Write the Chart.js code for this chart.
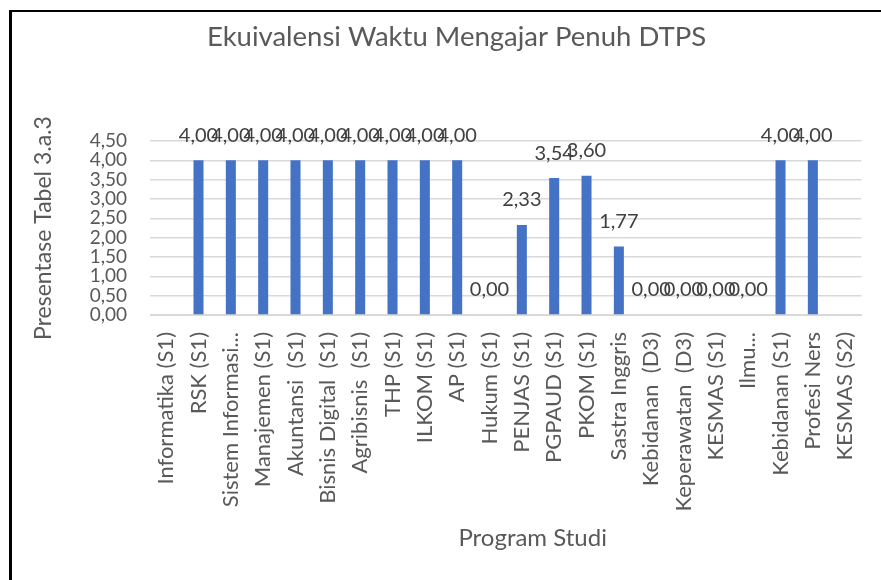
<!DOCTYPE html>
<html lang="id">
<head>
    <meta charset="UTF-8">
    <title>Ekuivalensi Waktu Mengajar Penuh DTPS</title>
    <style>
        html, body { margin: 0; padding: 0; background: #fff; }
        .wrap { position: relative; width: 881px; height: 580px; overflow: hidden; }
        .frame {
            position: absolute; left: 9px; top: 10px; right: -10px; bottom: -10px;
            border-top: 2px solid #000; border-left: 3px solid #000;
            pointer-events: none;
        }
    </style>
</head>
<body>
    <div class="wrap">
        <canvas id="chart" width="881" height="580"></canvas>
        <div class="frame"></div>
    </div>
    <script src="https://cdn.jsdelivr.net/npm/chart.js"></script>
    <script>
        const programs = [
            "Informatika (S1)", "RSK (S1)", "Sistem Informasi...", "Manajemen (S1)",
            "Akuntansi  (S1)", "Bisnis Digital  (S1)", "Agribisnis  (S1)", "THP (S1)",
            "ILKOM (S1)", "AP (S1)", "Hukum (S1)", "PENJAS (S1)", "PGPAUD (S1)",
            "PKOM (S1)", "Sastra Inggris", "Kebidanan  (D3)", "Keperawatan  (D3)",
            "KESMAS (S1)", "Ilmu...", "Kebidanan (S1)", "Profesi Ners", "KESMAS (S2)"
        ];
        const ekuivalensi = [
            null, 4.00, 4.00, 4.00, 4.00, 4.00, 4.00, 4.00, 4.00, 4.00,
            0.00, 2.33, 3.54, 3.60, 1.77, 0.00, 0.00, 0.00, 0.00, 4.00, 4.00, null
        ];
        const yTicks = [0, 0.5, 1, 1.5, 2, 2.5, 3, 3.5, 4, 4.5];

        const textGrey = "#595959";
        const fmt = v => v.toFixed(2).replace(".", ",");

        // value labels above each bar (no datalabels plugin available offline)
        const valueLabels = {
            id: "valueLabels",
            afterDatasetsDraw(chart) {
                const ctx = chart.ctx;
                const meta = chart.getDatasetMeta(0);
                ctx.save();
                ctx.font = "20px Lato";
                ctx.fillStyle = "#404040";
                ctx.textAlign = "center";
                ctx.textBaseline = "middle";
                meta.data.forEach((bar, i) => {
                    const v = ekuivalensi[i];
                    if (v === null) return;
                    ctx.fillText(fmt(v), bar.x, bar.y - 25);
                });
                ctx.restore();
            }
        };

        // x axis title, Excel puts it a bit right of the plot centre
        const xTitle = {
            id: "xTitle",
            afterDraw(chart) {
                const { ctx, chartArea } = chart;
                ctx.save();
                ctx.font = "24px Lato";
                ctx.fillStyle = textGrey;
                ctx.textAlign = "center";
                ctx.textBaseline = "middle";
                ctx.fillText("Program Studi", (chartArea.left + chartArea.right) / 2 + 27, 538);
                ctx.restore();
            }
        };

        Chart.defaults.font.family = "Lato";
        Chart.defaults.color = textGrey;

        new Chart(document.getElementById("chart"), {
            type: "bar",
            data: {
                labels: programs,
                datasets: [{
                    data: ekuivalensi,
                    backgroundColor: "#4472C4",
                    borderWidth: 0,
                    categoryPercentage: 1,
                    barPercentage: 0.31
                }]
            },
            options: {
                responsive: false,
                animation: false,
                layout: { padding: { left: 50, right: 18, top: 0, bottom: 0 } },
                plugins: {
                    legend: { display: false },
                    tooltip: { enabled: false },
                    title: {
                        display: true,
                        text: "Ekuivalensi Waktu Mengajar Penuh DTPS",
                        color: textGrey,
                        font: { size: 27.5, weight: "normal" },
                        padding: { top: 21, bottom: 87 }
                    }
                },
                scales: {
                    x: {
                        grid: { display: false },
                        border: { display: true, color: "#D9D9D9" },
                        ticks: {
                            autoSkip: false,
                            minRotation: 90,
                            maxRotation: 90,
                            padding: 9,
                            font: { size: 22 }
                        },
                        afterFit(scale) { scale.height = 265; }
                    },
                    y: {
                        min: 0,
                        max: 4.5,
                        afterBuildTicks(scale) {
                            scale.ticks = yTicks.map(v => ({ value: v }));
                        },
                        grid: { color: "#D9D9D9", lineWidth: 1.5, drawTicks: false },
                        border: { display: false },
                        ticks: {
                            autoSkip: false,
                            padding: 23,
                            font: { size: 19 },
                            callback: v => fmt(v)
                        },
                        title: {
                            display: true,
                            text: "Presentase Tabel 3.a.3",
                            font: { size: 23 },
                            padding: { top: -20, bottom: 0 }
                        },
                        afterFit(scale) { scale.width = 100; }
                    }
                }
            },
            plugins: [valueLabels, xTitle]
        });
    </script>
</body>
</html>
